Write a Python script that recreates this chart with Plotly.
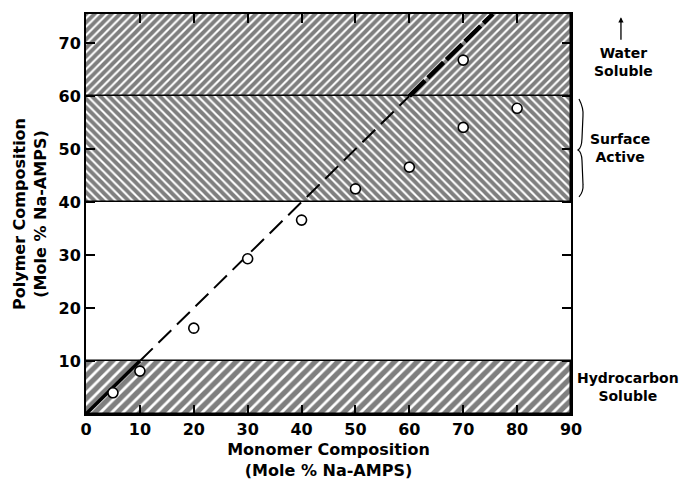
import plotly.graph_objects as go

# Measured copolymer composition vs. monomer feed (mole % Na-AMPS)
monomer_pct = [5, 10, 20, 30, 40, 50, 60, 70, 70, 80]
polymer_pct = [4.0, 8.1, 16.2, 29.3, 36.6, 42.5, 46.6, 54.1, 66.8, 57.7]

# Solubility regions on the polymer-composition axis
band_lo = [0, 40, 60]
band_hi = [10, 60, 75.5]
band_hatch = ["/", "\\", "/"]
band_size = [8, 6, 6]

# Ideal (feed = polymer) line, split where it crosses the region borders
diag_pts = [0, 10, 60, 75.5]
diag_width = [3.5, 2, 4.5]
diag_dash = ["solid", "18px,8px", "22px,4px"]

x_ticks = [0, 10, 20, 30, 40, 50, 60, 70, 80, 90]
y_ticks = [10, 20, 30, 40, 50, 60, 70]

FONT = "DejaVu Sans"

fig = go.Figure()

for lo, hi, hatch, sz in zip(band_lo, band_hi, band_hatch, band_size):
    fig.add_trace(go.Bar(
        x=[45], width=[90], base=[lo], y=[hi - lo],
        marker=dict(
            color="white",
            line=dict(color="black", width=1.5),
            pattern=dict(shape=hatch, fgcolor="black", bgcolor="white",
                         size=sz, solidity=0.65),
        ),
        showlegend=False, hoverinfo="skip",
    ))

for i in range(len(diag_pts) - 1):
    seg = diag_pts[i:i + 2]
    fig.add_trace(go.Scatter(
        x=seg, y=seg, mode="lines",
        line=dict(color="black", width=diag_width[i], dash=diag_dash[i]),
        showlegend=False, hoverinfo="skip",
    ))

fig.add_trace(go.Scatter(
    x=monomer_pct, y=polymer_pct, mode="markers",
    marker=dict(symbol="circle", size=10, color="white",
                line=dict(color="black", width=1.6)),
    showlegend=False,
))

axis_common = dict(
    showgrid=False, zeroline=False,
    showline=True, linecolor="black", linewidth=2, mirror="ticks",
    ticks="inside", ticklen=9, tickwidth=1.5, tickcolor="black",
    tickfont=dict(family=FONT, size=16, color="black", weight=700),
)

title_font = dict(family=FONT, size=16, color="black", weight=700)

fig.update_xaxes(
    range=[0, 90], tickvals=x_ticks,
    title=dict(text="Monomer Composition<br>(Mole % Na-AMPS)",
               font=title_font, standoff=6),
    **axis_common,
)
fig.update_yaxes(
    range=[0, 75.5], tickvals=y_ticks,
    title=dict(text="Polymer Composition<br>(Mole % Na-AMPS)",
               font=title_font, standoff=8),
    **axis_common,
)

label_font = dict(family=FONT, size=14, color="black", weight=700)
for txt, xp, yp in [("Water<br>Soluble", 1.109, 0.880),
                    ("Surface<br>Active", 1.101, 0.665),
                    ("Hydrocarbon<br>Soluble", 1.118, 0.068)]:
    fig.add_annotation(xref="paper", yref="paper", x=xp, y=yp,
                       xanchor="center", yanchor="middle",
                       text=txt, showarrow=False, font=label_font)

# upward arrow above "Water Soluble"
fig.add_annotation(xref="paper", yref="paper", x=1.103, y=0.992,
                   ax=0, ay=24, text="", showarrow=True,
                   arrowhead=2, arrowsize=0.8, arrowwidth=1.3, arrowcolor="black")

# brace grouping the surface-active range
fig.add_shape(
    type="path", xref="paper", yref="paper",
    path=("M 1.0165,0.7873 Q 1.026,0.765 1.0247,0.7457 L 1.0227,0.6895 "
          "Q 1.022,0.665 1.0144,0.6601 Q 1.022,0.655 1.0227,0.6333 "
          "L 1.0247,0.5746 Q 1.026,0.555 1.0165,0.5428"),
    line=dict(color="black", width=1.2),
)

fig.update_layout(
    width=687, height=489,
    margin=dict(l=86, r=116, t=13, b=67),
    plot_bgcolor="white", paper_bgcolor="white",
    barmode="overlay", bargap=0,
)

fig.write_html("out.html")
